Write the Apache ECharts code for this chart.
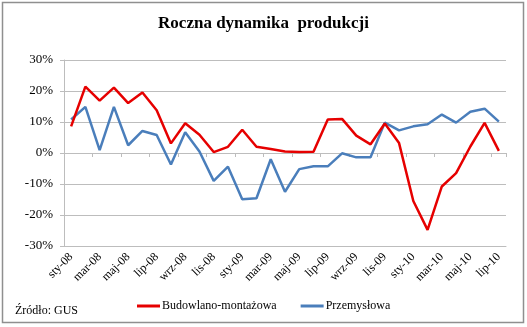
<!DOCTYPE html>
<html>
<head>
<meta charset="utf-8">
<script src="https://cdn.jsdelivr.net/npm/echarts@6/dist/echarts.min.js"></script>
<style>
  html, body { margin: 0; padding: 0; background: #fff; }
  #chart { width: 527px; height: 327px; }
</style>
</head>
<body>
<div id="chart"></div>
<script>
// Months Jan 2008 – Jul 2010
const months = [
  'sty-08','lut-08','mar-08','kwi-08','maj-08','cze-08','lip-08','sie-08','wrz-08','paź-08','lis-08','gru-08',
  'sty-09','lut-09','mar-09','kwi-09','maj-09','cze-09','lip-09','sie-09','wrz-09','paź-09','lis-09','gru-09',
  'sty-10','lut-10','mar-10','kwi-10','maj-10','cze-10','lip-10'
];

// Year-on-year change, %
const budowlano = [
  8.6, 21.4, 16.9, 21.1, 16.1, 19.5, 13.8, 3.1, 9.6, 5.9, 0.3, 2.0,
  7.5, 2.0, 1.3, 0.5, 0.3, 0.4, 10.8, 11.0, 5.6, 2.8, 9.5, 3.2,
  -15.5, -24.8, -10.8, -6.5, 2.1, 9.7, 0.7
];
const przemyslowa = [
  10.8, 14.9, 0.9, 14.9, 2.5, 7.1, 5.8, -3.7, 6.7, 0.5, -9.0, -4.4,
  -14.9, -14.6, -2.0, -12.5, -5.2, -4.3, -4.3, -0.1, -1.4, -1.4, 9.8, 7.3,
  8.6, 9.3, 12.4, 9.8, 13.3, 14.3, 10.1
];

const yTicks = { min: -30, max: 30, step: 10 };

const serif = '"Liberation Serif", "DejaVu Serif", serif';
const gridColor = '#bdbdbd';

const chart = echarts.init(document.getElementById('chart'), null, { renderer: 'canvas' });

chart.setOption({
  animation: false,
  backgroundColor: '#ffffff',
  title: {
    text: 'Roczna dynamika  produkcji',
    left: 'center',
    top: 10,
    textStyle: { fontFamily: serif, fontSize: 17, fontWeight: 'bold', color: '#000' }
  },
  grid: { left: 64, right: 21, top: 60, bottom: 81, containLabel: false },
  legend: {
    left: 137,
    top: 300,
    padding: 0,
    itemWidth: 23,
    itemHeight: 3,
    itemGap: 24,
    icon: 'rect',
    textStyle: { fontFamily: serif, fontSize: 12, color: '#000', padding: [0, 0, 0, -3] },
    data: ['Budowlano-montażowa', 'Przemysłowa']
  },
  graphic: [
    {
      type: 'rect',
      shape: { x: 2.5, y: 2.5, width: 521, height: 320 },
      style: { fill: 'none', stroke: '#8f8f8f', lineWidth: 1.5 },
      silent: true
    },
    {
      type: 'text',
      left: 15,
      top: 305,
      style: { text: 'Źródło: GUS', font: '12px ' + serif, fill: '#000' }
    }
  ],
  xAxis: [
    {
      type: 'category',
      data: months,
      boundaryGap: true,
      position: 'bottom',
      axisLine: { onZero: false, lineStyle: { color: gridColor, width: 1 } },
      axisTick: { show: false },
      axisLabel: {
        interval: 1,
        rotate: 45,
        margin: 9,
        fontFamily: serif,
        fontSize: 12,
        color: '#000'
      },
      splitLine: { show: false }
    },
    {
      type: 'category',
      data: months,
      boundaryGap: true,
      position: 'bottom',
      axisLine: { onZero: true, lineStyle: { color: gridColor, width: 1 } },
      axisTick: { show: true, interval: 1, length: 4, lineStyle: { color: gridColor } },
      axisLabel: { show: false },
      splitLine: { show: false }
    }
  ],
  yAxis: {
    type: 'value',
    min: yTicks.min,
    max: yTicks.max,
    interval: yTicks.step,
    axisLine: { show: true, lineStyle: { color: gridColor } },
    axisTick: { show: true, length: 4, lineStyle: { color: gridColor } },
    axisLabel: {
      formatter: '{value}%',
      fontFamily: serif,
      fontSize: 13,
      color: '#000',
      margin: 11
    },
    splitLine: { show: true, lineStyle: { color: gridColor, width: 1 } }
  },
  series: [
    {
      name: 'Budowlano-montażowa',
      type: 'line',
      xAxisIndex: 0,
      data: budowlano,
      showSymbol: false,
      symbol: 'none',
      lineStyle: { color: '#e60000', width: 2.5 },
      itemStyle: { color: '#e60000' },
      z: 3
    },
    {
      name: 'Przemysłowa',
      type: 'line',
      xAxisIndex: 0,
      data: przemyslowa,
      showSymbol: false,
      symbol: 'none',
      lineStyle: { color: '#4a7ebb', width: 2.5 },
      itemStyle: { color: '#4a7ebb' },
      z: 2
    }
  ]
});
</script>
</body>
</html>
